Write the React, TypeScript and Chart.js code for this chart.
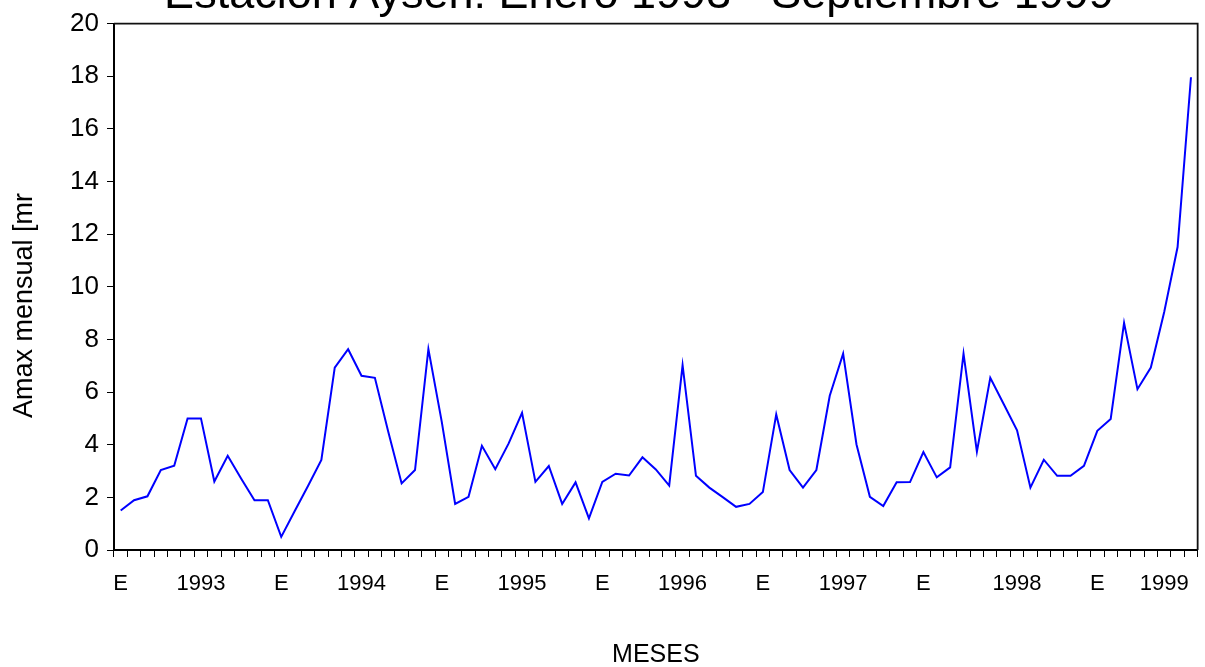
import React, { useEffect, useRef } from 'react';
import { Chart, registerables } from 'chart.js';

Chart.register(...registerables);

const titleText = 'Estación Aysén: Enero 1993 - Septiembre 1999';
const yTitle = 'Amax mensual [mr';
const xTitle = 'MESES';

const years = [1993, 1994, 1995, 1996, 1997, 1998, 1999];
const monthCodes = ['E', 'F', 'M', 'A', 'My', 'Jn', 'Jl', 'Ag', 'S', 'O', 'N', 'D'];
const categories: string[] = years
  .flatMap((y) => monthCodes.map((m) => `${m}-${y}`))
  .slice(0, 81);

const amax = [
  1.5, 1.89, 2.04, 3.04, 3.2, 5.0, 5.0, 2.6, 3.58, 2.72, 1.89, 1.89,
  0.5, 1.47, 2.43, 3.42, 6.93, 7.63, 6.62, 6.54, 4.49, 2.53, 3.04, 7.63,
  4.87, 1.75, 2.02, 3.96, 3.07, 4.05, 5.21, 2.59, 3.19, 1.75, 2.57, 1.2,
  2.59, 2.9, 2.83, 3.52, 3.06, 2.45, 7.02, 2.82, 2.37, 2.01, 1.64, 1.75,
  2.2, 5.15, 3.04, 2.37, 3.04, 5.86, 7.46, 4.01, 2.02, 1.67, 2.57, 2.58,
  3.72, 2.76, 3.14, 7.46, 3.74, 6.54, 5.55, 4.55, 2.37, 3.43, 2.82, 2.82,
  3.2, 4.53, 4.98, 8.63, 6.11, 6.93, 9.04, 11.51, 17.96,
];

const xLabelIndex = [0, 6, 12, 18, 24, 30, 36, 42, 48, 54, 60, 67, 73, 78];
const xLabelText = ['E', '1993', 'E', '1994', 'E', '1995', 'E', '1996', 'E', '1997', 'E', '1998', 'E', '1999'];

const yMin = 0;
const yMax = 20;
const yStep = 2;

const FONT = '"Liberation Sans", Arial, sans-serif';

const topTitlePlugin = {
  id: 'topTitle',
  afterDraw(chart: any) {
    const ctx = chart.ctx;
    ctx.save();
    ctx.font = `45px ${FONT}`;
    ctx.fillStyle = '#000';
    ctx.textAlign = 'center';
    ctx.textBaseline = 'alphabetic';
    ctx.fillText(titleText, 639, 8);
    ctx.restore();
  },
};

const framePlugin = {
  id: 'frame',
  afterDatasetsDraw(chart: any) {
    const { ctx, chartArea } = chart;
    ctx.save();
    ctx.strokeStyle = '#111';
    ctx.lineWidth = 1.8;
    ctx.beginPath();
    ctx.moveTo(chartArea.left, chartArea.top);
    ctx.lineTo(chartArea.right, chartArea.top);
    ctx.lineTo(chartArea.right, chartArea.bottom);
    ctx.stroke();
    ctx.restore();
  },
};

export default function App() {
  const ref = useRef<HTMLCanvasElement | null>(null);

  useEffect(() => {
    document.body.style.margin = '0';
    const canvas = ref.current;
    if (!canvas) return;
    const chart = new Chart(canvas, {
      type: 'line',
      data: {
        labels: categories,
        datasets: [
          {
            label: 'Amax mensual',
            data: amax,
            borderColor: '#0000ff',
            borderWidth: 2,
            pointRadius: 0,
            tension: 0,
            fill: false,
          },
        ],
      },
      options: {
        animation: false,
        responsive: true,
        maintainAspectRatio: false,
        layout: { padding: { top: 23, right: 6, left: 0, bottom: 0 } },
        plugins: {
          legend: { display: false },
          title: { display: false },
          tooltip: { enabled: false },
        },
        scales: {
          x: {
            type: 'category',
            offset: true,
            afterFit: (scale: any) => {
              scale.height = 117;
            },
            grid: {
              offset: true,
              drawOnChartArea: false,
              drawTicks: true,
              tickLength: 7,
              color: '#000',
              lineWidth: 1,
            },
            border: { display: true, color: '#000', width: 2 },
            ticks: {
              autoSkip: false,
              maxRotation: 0,
              minRotation: 0,
              padding: 14,
              color: '#000',
              font: { family: FONT, size: 22 },
              callback: (_v: any, i: number) => {
                const k = xLabelIndex.indexOf(i);
                return k >= 0 ? xLabelText[k] : '';
              },
            },
            title: {
              display: true,
              text: xTitle,
              color: '#000',
              font: { family: FONT, size: 25, lineHeight: 1 },
              padding: { top: 0, bottom: -1 },
            },
          },
          y: {
            type: 'linear',
            min: yMin,
            max: yMax,
            afterFit: (scale: any) => {
              scale.width = 114;
            },
            grid: {
              drawOnChartArea: false,
              drawTicks: true,
              tickLength: 7,
              color: '#000',
              lineWidth: 1,
            },
            border: { display: true, color: '#000', width: 2 },
            ticks: {
              stepSize: yStep,
              padding: 8,
              color: '#000',
              font: { family: FONT, size: 26 },
            },
            title: {
              display: true,
              text: yTitle + '     ',
              color: '#000',
              font: { family: FONT, size: 27, lineHeight: 1.2 },
              padding: { top: 8, bottom: 0 },
            },
          },
        },
      },
      plugins: [topTitlePlugin, framePlugin],
    });
    return () => chart.destroy();
  }, []);

  return (
    <div style={{ position: 'relative', width: 1205, height: 667, background: '#fff' }}>
      <canvas ref={ref} />
    </div>
  );
}
